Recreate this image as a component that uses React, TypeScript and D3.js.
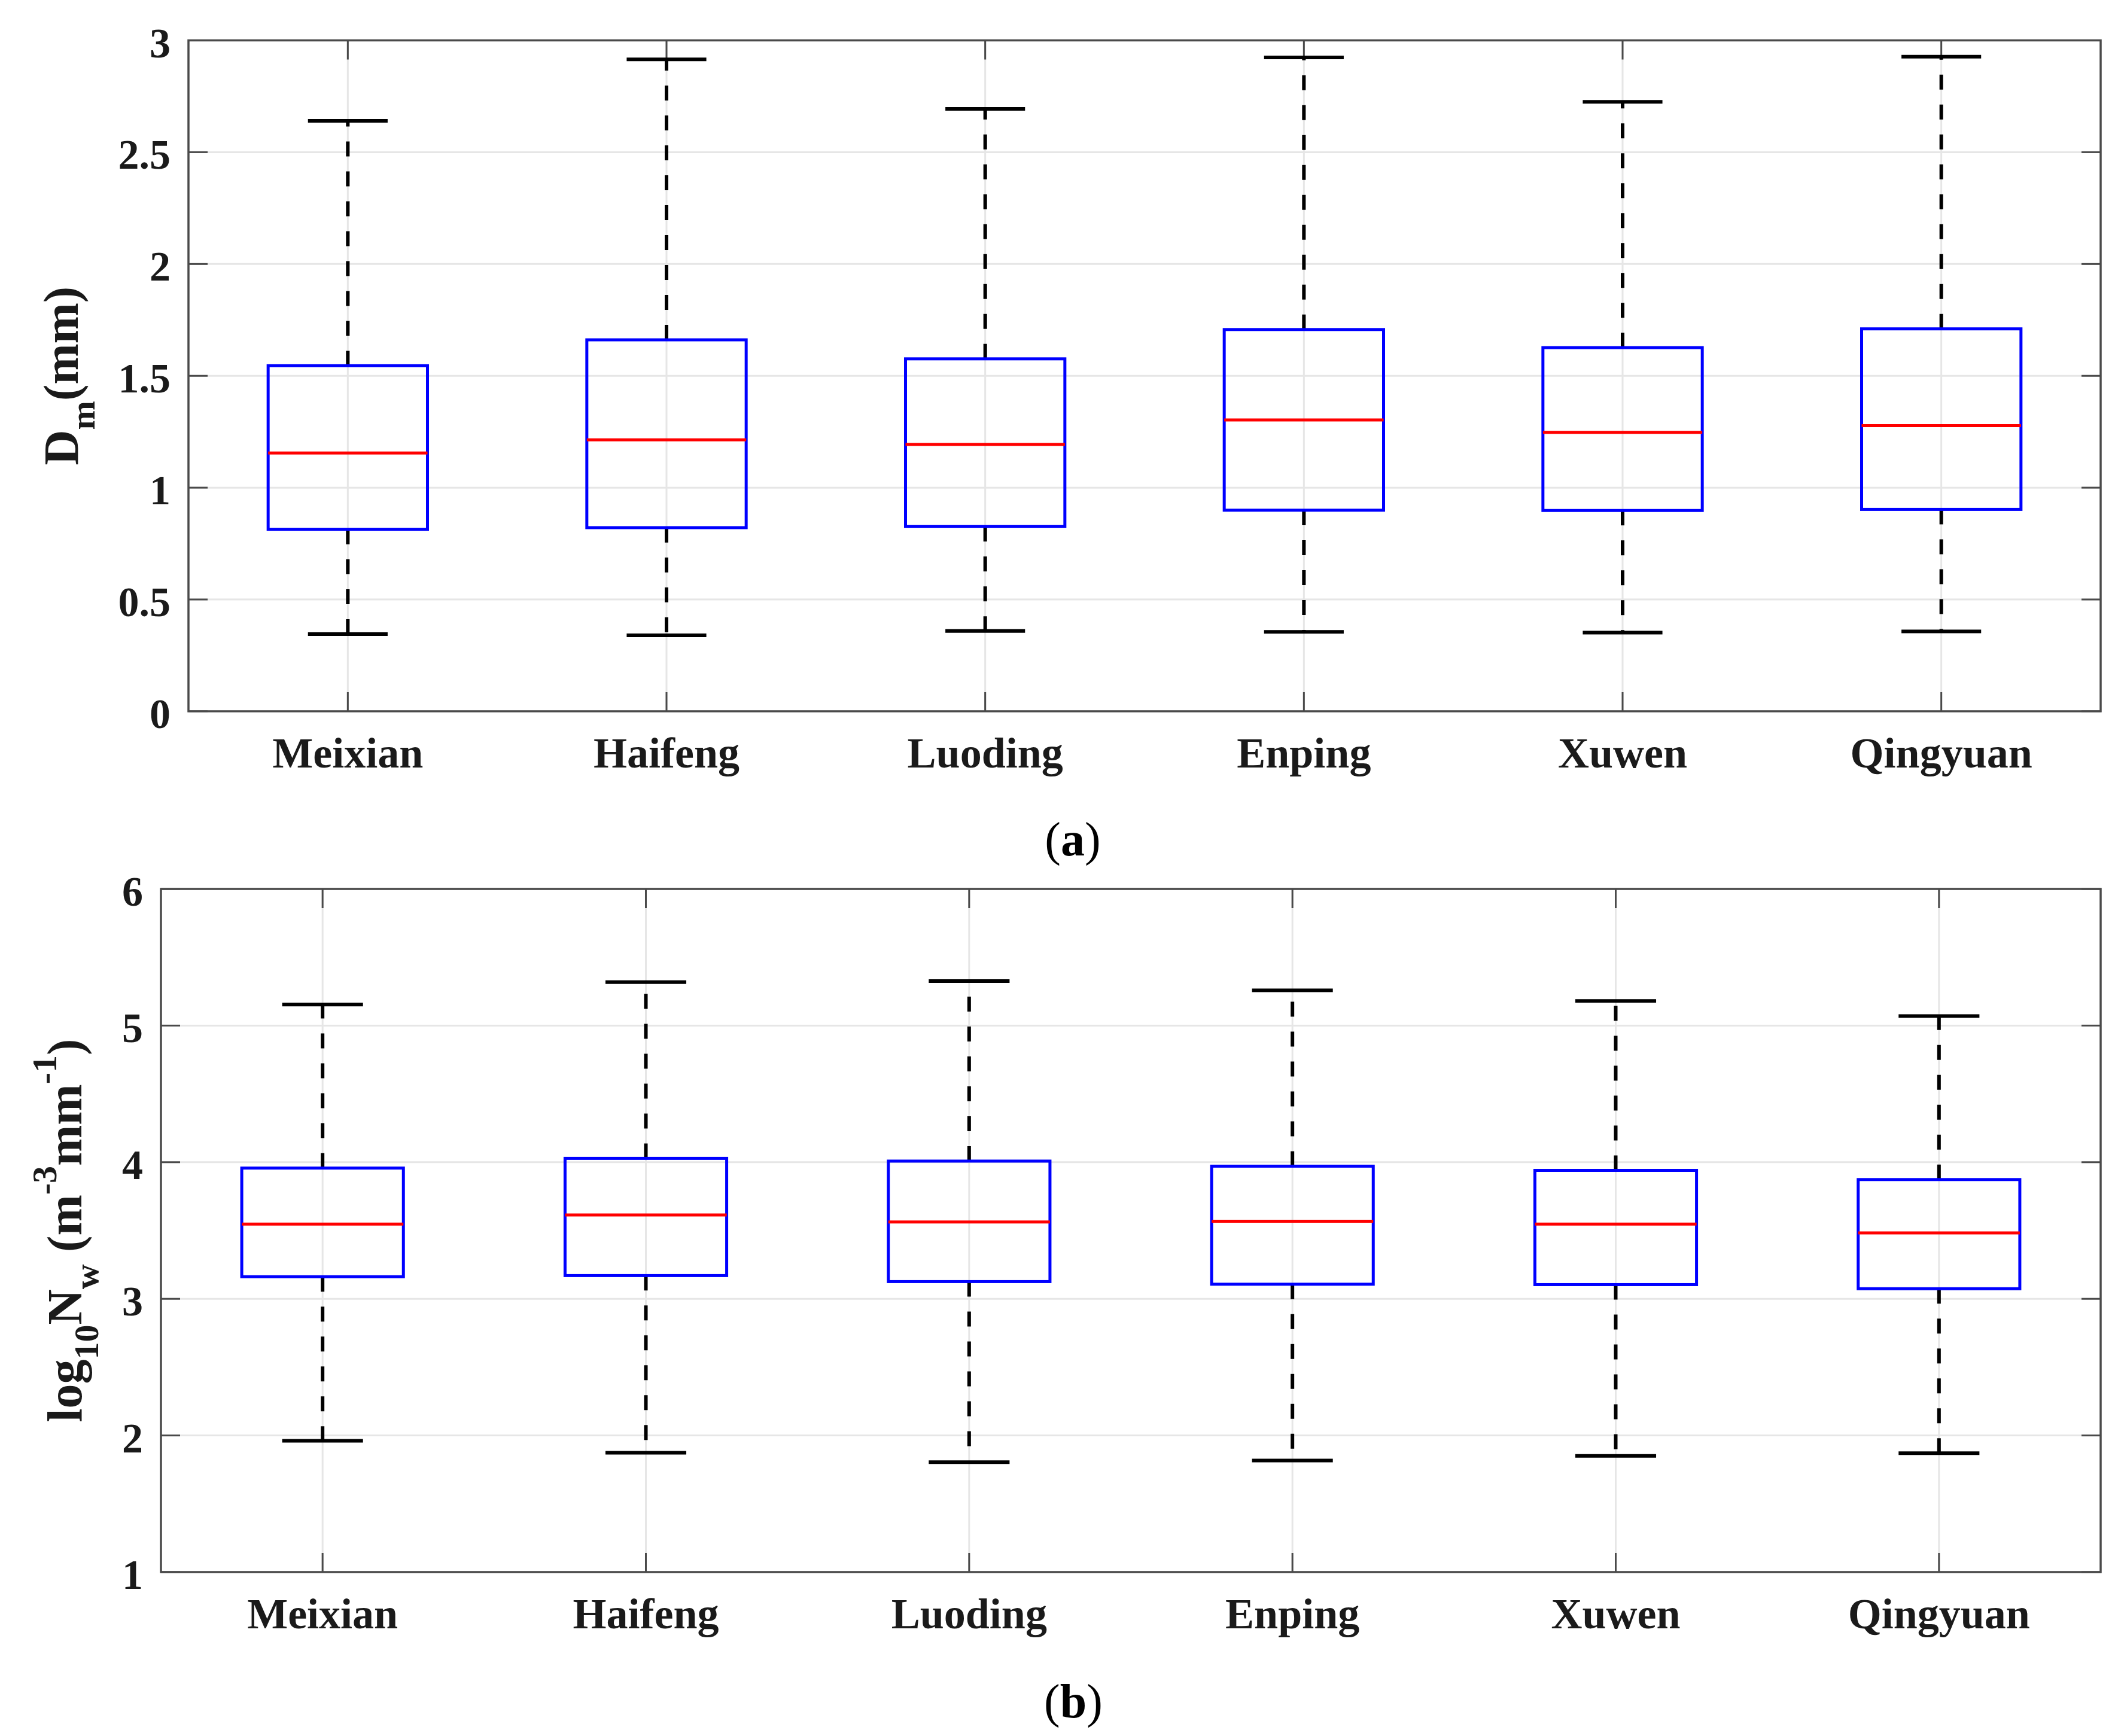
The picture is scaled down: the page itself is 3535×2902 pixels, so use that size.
import React from 'react';
import * as d3 from 'd3';

const W = 3535;
const H = 2902;

const stations = ['Meixian', 'Haifeng', 'Luoding', 'Enping', 'Xuwen', 'Qingyuan'];

// panel (a): Dm (mm)
const dmLower = [0.345, 0.34, 0.359, 0.355, 0.352, 0.357];
const dmQ1 = [0.813, 0.821, 0.826, 0.899, 0.898, 0.903];
const dmMedian = [1.155, 1.214, 1.193, 1.303, 1.247, 1.277];
const dmQ3 = [1.545, 1.661, 1.576, 1.707, 1.626, 1.71];
const dmUpper = [2.64, 2.915, 2.694, 2.924, 2.725, 2.927];
const dmTicks = [0, 0.5, 1, 1.5, 2, 2.5, 3];
const dmTickLabels = ['0', '0.5', '1', '1.5', '2', '2.5', '3'];

// panel (b): log10 Nw
const nwLower = [1.961, 1.873, 1.805, 1.817, 1.85, 1.87];
const nwQ1 = [3.162, 3.17, 3.126, 3.107, 3.104, 3.074];
const nwMedian = [3.547, 3.614, 3.562, 3.568, 3.547, 3.482];
const nwQ3 = [3.957, 4.028, 4.008, 3.971, 3.94, 3.873];
const nwUpper = [5.154, 5.318, 5.326, 5.258, 5.18, 5.07];
const nwTicks = [1, 2, 3, 4, 5, 6];
const nwTickLabels = ['1', '2', '3', '4', '5', '6'];

const FONT = '"Liberation Serif", "Times New Roman", serif';
const AXIS = '#4a4a4a';
const GRID = '#e6e6e6';
const TICK_LEN = 32;

type PanelProps = {
  left: number;
  right: number;
  top: number;
  bottom: number;
  domain: [number, number];
  ticks: number[];
  tickLabels: string[];
  lower: number[];
  q1: number[];
  median: number[];
  q3: number[];
  upper: number[];
  title: React.ReactNode;
  titleX: number;
};

const Panel = (p: PanelProps) => {
  const x = d3.scaleBand().domain(stations).range([p.left, p.right]).padding(0);
  const y = d3.scaleLinear().domain(p.domain).range([p.bottom, p.top]);
  const bw = x.bandwidth();
  const cx = (s: string) => (x(s) as number) + bw / 2;
  const midY = (p.top + p.bottom) / 2;

  return (
    <g>
      {/* grid */}
      {p.ticks.map((t) => (
        <line key={'gy' + t} x1={p.left} x2={p.right} y1={y(t)} y2={y(t)} stroke={GRID} strokeWidth={3} />
      ))}
      {stations.map((s) => (
        <line key={'gx' + s} x1={cx(s)} x2={cx(s)} y1={p.top} y2={p.bottom} stroke={GRID} strokeWidth={3} />
      ))}

      {/* ticks inward */}
      {p.ticks.map((t) => (
        <g key={'t' + t}>
          <line x1={p.left} x2={p.left + TICK_LEN} y1={y(t)} y2={y(t)} stroke={AXIS} strokeWidth={3} />
          <line x1={p.right} x2={p.right - TICK_LEN} y1={y(t)} y2={y(t)} stroke={AXIS} strokeWidth={3} />
          <text
            x={p.left - 30}
            y={y(t) + 28}
            textAnchor="end"
            fontFamily={FONT}
            fontWeight="bold"
            fontSize={70}
            fill="#1a1a1a"
          >
            {p.tickLabels[p.ticks.indexOf(t)]}
          </text>
        </g>
      ))}
      {stations.map((s) => (
        <g key={'xt' + s}>
          <line x1={cx(s)} x2={cx(s)} y1={p.bottom} y2={p.bottom - TICK_LEN} stroke={AXIS} strokeWidth={3} />
          <line x1={cx(s)} x2={cx(s)} y1={p.top} y2={p.top + TICK_LEN} stroke={AXIS} strokeWidth={3} />
          <text
            x={cx(s)}
            y={p.bottom + 94}
            textAnchor="middle"
            fontFamily={FONT}
            fontWeight="bold"
            fontSize={72}
            fill="#1a1a1a"
          >
            {s}
          </text>
        </g>
      ))}

      {/* boxes */}
      {stations.map((s, i) => {
        const c = cx(s);
        const half = bw / 4;
        const cap = bw / 8;
        return (
          <g key={'b' + s}>
            <line x1={c} x2={c} y1={y(p.q3[i])} y2={y(p.upper[i])} stroke="#000" strokeWidth={6} strokeDasharray="25 25" />
            <line x1={c} x2={c} y1={y(p.q1[i])} y2={y(p.lower[i])} stroke="#000" strokeWidth={6} strokeDasharray="25 25" />
            <line x1={c - cap} x2={c + cap} y1={y(p.upper[i])} y2={y(p.upper[i])} stroke="#000" strokeWidth={6} />
            <line x1={c - cap} x2={c + cap} y1={y(p.lower[i])} y2={y(p.lower[i])} stroke="#000" strokeWidth={6} />
            <rect
              x={c - half}
              y={y(p.q3[i])}
              width={half * 2}
              height={y(p.q1[i]) - y(p.q3[i])}
              fill="none"
              stroke="#0000ff"
              strokeWidth={5}
            />
            <line x1={c - half} x2={c + half} y1={y(p.median[i])} y2={y(p.median[i])} stroke="#ff0000" strokeWidth={5} />
          </g>
        );
      })}

      {/* frame */}
      <rect x={p.left} y={p.top} width={p.right - p.left} height={p.bottom - p.top} fill="none" stroke={AXIS} strokeWidth={3.5} />

      <text
        transform={`translate(${p.titleX},${midY}) rotate(-90)`}
        textAnchor="middle"
        fontFamily={FONT}
        fontWeight="bold"
        fontSize={82}
        fill="#1a1a1a"
      >
        {p.title}
      </text>
    </g>
  );
};

const App = () => {
  return (
    <svg
      width={W}
      height={H}
      viewBox={`0 0 ${W} ${H}`}
      style={{ position: 'absolute', left: 0, top: 0, background: '#fff' }}
    >
      <rect width={W} height={H} fill="#fff" />
      <Panel
        left={315}
        right={3511}
        top={67.5}
        bottom={1189}
        domain={[0, 3]}
        ticks={dmTicks}
        tickLabels={dmTickLabels}
        lower={dmLower}
        q1={dmQ1}
        median={dmMedian}
        q3={dmQ3}
        upper={dmUpper}
        titleX={130}
        title={
          <>
            <tspan>D</tspan>
            <tspan fontSize={58} dy={28}>m</tspan>
            <tspan dy={-28}>(mm)</tspan>
          </>
        }
      />
      <text x={1793} y={1430} textAnchor="middle" fontFamily={FONT} fontSize={80} fill="#000">
        (<tspan fontWeight="bold">a</tspan>)
      </text>

      <Panel
        left={269}
        right={3511}
        top={1486}
        bottom={2628}
        domain={[1, 6]}
        ticks={nwTicks}
        tickLabels={nwTickLabels}
        lower={nwLower}
        q1={nwQ1}
        median={nwMedian}
        q3={nwQ3}
        upper={nwUpper}
        titleX={136}
        title={
          <>
            <tspan>log</tspan>
            <tspan fontSize={58} dy={28}>10</tspan>
            <tspan dy={-28}>N</tspan>
            <tspan fontSize={58} dy={28}>w</tspan>
            <tspan dy={-28}> (m</tspan>
            <tspan fontSize={58} dy={-42}>-3</tspan>
            <tspan dy={42}>mm</tspan>
            <tspan fontSize={58} dy={-42}>-1</tspan>
            <tspan dy={42}>)</tspan>
          </>
        }
      />
      <text x={1794} y={2871} textAnchor="middle" fontFamily={FONT} fontSize={80} fill="#000">
        (<tspan fontWeight="bold">b</tspan>)
      </text>
    </svg>
  );
};

export default App;
